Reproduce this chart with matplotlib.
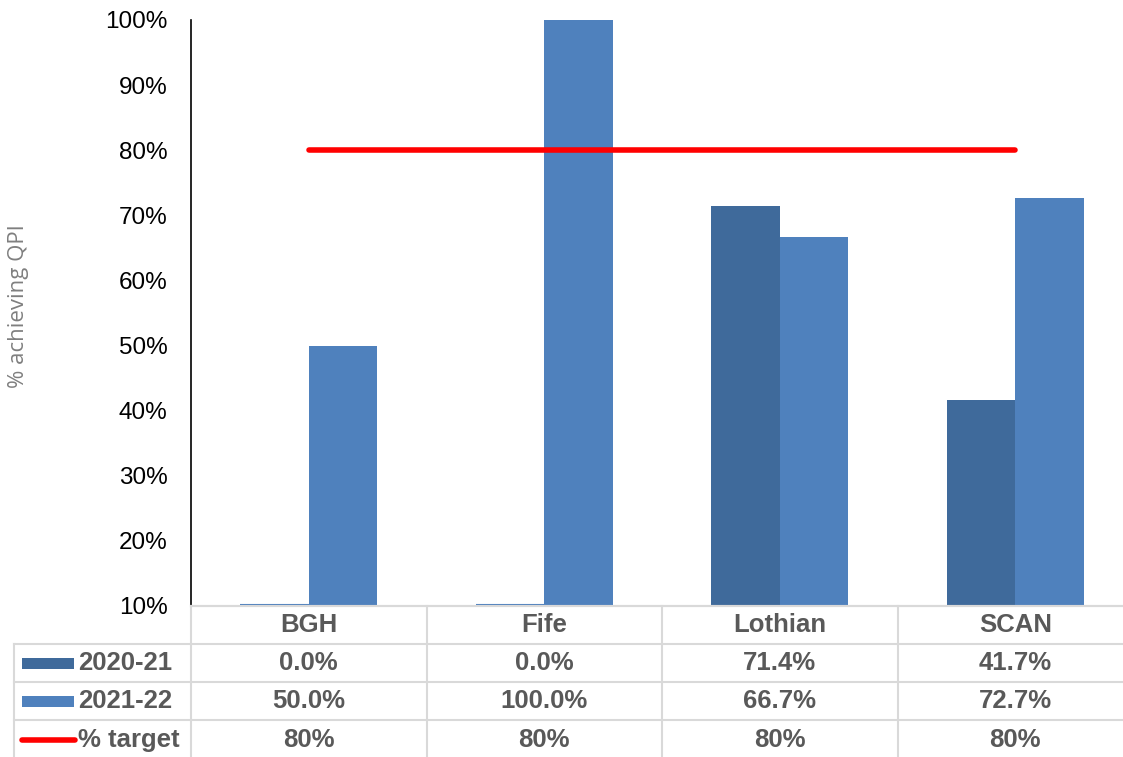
import numpy as np
import matplotlib.pyplot as plt
import matplotlib.transforms as mtransforms
from matplotlib.lines import Line2D
from matplotlib.patches import Rectangle

plt.rcParams['font.family'] = ['Liberation Sans', 'DejaVu Sans']

# data
boards = ['BGH', 'Fife', 'Lothian', 'SCAN']
series_names = ['2020-21', '2021-22', '% target']
vals_2021 = [0.0, 0.0, 71.4, 41.7]
vals_2122 = [50.0, 100.0, 66.7, 72.7]
target = [80, 80, 80, 80]

c_dark = '#3F6A9B'
c_light = '#4F81BD'
c_red = '#FF0000'
grid_c = '#D9D9D9'
txt_c = '#595959'

W, H = 1123, 757
fig = plt.figure(figsize=(W / 100, H / 100), dpi=100)
# axes in pixel terms: left 191, right 1133, top 20, bottom 606
ax = fig.add_axes([191 / W, 1 - 606 / H, 942 / W, 586 / H])

x = np.arange(len(boards))
bw = 0.29
ax.bar(x - bw / 2, vals_2021, bw, color=c_dark)
ax.bar(x + bw / 2, vals_2122, bw, color=c_light)
# zero values show as a thin line on the floor of the axis
for xi, v in zip(x, vals_2021):
    if v == 0:
        ax.hlines(10.15, xi - bw, xi, color=c_light, lw=1.5)
ax.plot(x, target, color=c_red, lw=4, solid_capstyle='round')

ax.set_xlim(-0.5, 3.5)
ax.set_ylim(10, 100)
ax.set_yticks(range(10, 101, 10))
ax.set_yticklabels([f'{v}%' for v in range(10, 101, 10)], fontsize=17.5, color='black')
ax.tick_params(axis='y', length=0, pad=17)
ax.set_xticks([])
for s in ['top', 'right']:
    ax.spines[s].set_visible(False)
ax.spines['bottom'].set_color(grid_c)
ax.spines['bottom'].set_linewidth(1.5)
ax.spines['left'].set_color('black')
ax.spines['left'].set_linewidth(1.2)

fig.text(19 / W, 1 - 306 / H, '% achieving QPI', rotation=90, ha='center', va='center',
         fontsize=16, color='#7F7F7F', family=['Open Sans', 'DejaVu Sans'])

# data table below the plot
trans = mtransforms.blended_transform_factory(ax.transData, fig.transFigure)
row_edges = [606, 644, 682, 720, 760]

def fy(p):
    return 1 - p / H

# horizontal lines
for i, ry in enumerate(row_edges[:-1]):
    x0 = 191 if i == 0 else 14
    fig.add_artist(Line2D([x0 / W, 1.01], [fy(ry), fy(ry)], color=grid_c, lw=1.5))
# vertical lines
for k in range(5):
    xp = (191 + k * 235.5) / W
    fig.add_artist(Line2D([xp, xp], [fy(606), fy(760)], color=grid_c, lw=1.5))
fig.add_artist(Line2D([14 / W, 14 / W], [fy(644), fy(760)], color=grid_c, lw=1.5))

def mid(i):
    return fy((row_edges[i] + row_edges[i + 1]) / 2)

for xi, b in zip(x, boards):
    ax.text(xi, mid(0), b, transform=trans, ha='center', va='center',
            fontsize=18.5, fontweight='bold', color=txt_c)

rows = [[f'{v:.1f}%' for v in vals_2021],
        [f'{v:.1f}%' for v in vals_2122],
        [f'{v}%' for v in target]]
for r, cells in enumerate(rows):
    for xi, t in zip(x, cells):
        ax.text(xi, mid(r + 1), t, transform=trans, ha='center', va='center',
                fontsize=18.5, fontweight='bold', color=txt_c)

# legend keys in the label column
for r, (name, col) in enumerate(zip(series_names, [c_dark, c_light, c_red])):
    yc = mid(r + 1)
    if r < 2:
        fig.add_artist(Rectangle((22 / W, yc - 5.5 / H), 52 / W, 11 / H,
                                 facecolor=col, edgecolor='none'))
    else:
        fig.add_artist(Line2D([22 / W, 75 / W], [yc, yc], color=col, lw=4,
                              solid_capstyle='round'))
    fig.text(78 / W, yc, name, ha='left', va='center', fontsize=18.5,
             fontweight='bold', color=txt_c)

fig.savefig('out.png', dpi=100)
